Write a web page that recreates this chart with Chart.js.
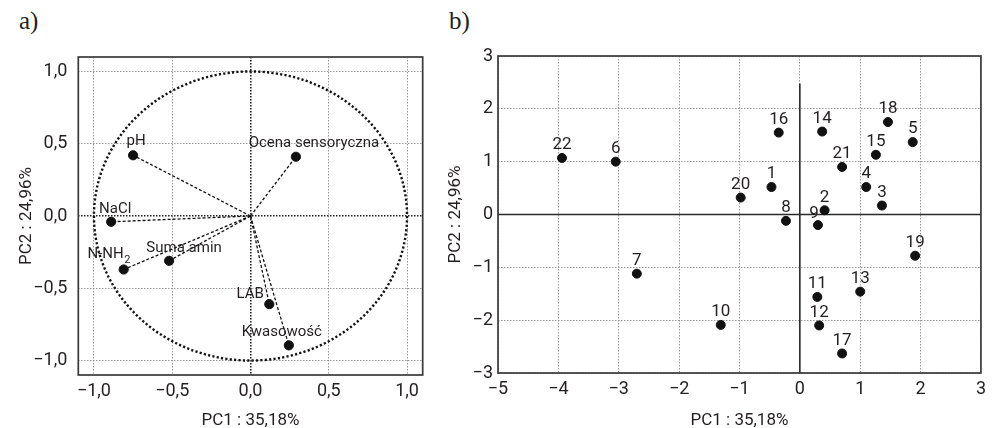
<!DOCTYPE html>
<html><head><meta charset="utf-8">
<script src="https://cdn.jsdelivr.net/npm/chart.js@4"></script>
<style>
html,body{margin:0;padding:0;background:#fff;width:992px;height:428px;overflow:hidden}
#ca{position:absolute;left:0;top:0}
#cb{position:absolute;left:440px;top:0}
.pl{position:absolute;font-family:'Liberation Serif','DejaVu Serif',serif;font-size:25px;line-height:1;color:#231f20}
</style></head><body>
<div class="pl" style="left:19px;top:8px">a)</div>
<div class="pl" style="left:449px;top:8px">b)</div>
<canvas id="ca" width="440" height="428" style="width:440px;height:428px"></canvas>
<canvas id="cb" width="552" height="428" style="width:552px;height:428px"></canvas>
<script>
// ---------- data: panel a (loadings) ----------
const loadingNames = ["pH", "Ocena sensoryczna", "NaCl", "N-NH₂", "Suma amin", "LAB", "Kwasowość"];
const loadingPC1 = [-0.75, 0.29, -0.89, -0.81, -0.52, 0.12, 0.245];
const loadingPC2 = [0.42, 0.41, -0.04, -0.37, -0.31, -0.61, -0.895];
const ticksA = [-1, -0.5, 0, 0.5, 1];
const tickLabelsA = ["−1,0", "−0,5", "0,0", "0,5", "1,0"];

// ---------- data: panel b (scores) ----------
const sampleIds = ["1","2","3","4","5","6","7","8","9","10","11","12","13","14","15","16","17","18","19","20","21","22"];
const scorePC1 = [-0.47, 0.41, 1.36, 1.10, 1.87, -3.05, -2.70, -0.23, 0.30, -1.31, 0.29, 0.32, 1.00, 0.37, 1.26, -0.35, 0.70, 1.46, 1.91, -0.98, 0.70, -3.94];
const scorePC2 = [0.52, 0.08, 0.17, 0.52, 1.37, 1.00, -1.12, -0.12, -0.20, -2.09, -1.56, -2.10, -1.46, 1.57, 1.13, 1.55, -2.63, 1.75, -0.78, 0.32, 0.90, 1.07];
const ticksBX = [-5, -4, -3, -2, -1, 0, 1, 2, 3];
const tickLabelsBX = ["−5", "−4", "−3", "−2", "−1", "0", "1", "2", "3"];
const ticksBY = [-3, -2, -1, 0, 1, 2, 3];
const tickLabelsBY = ["−3", "−2", "−1", "0", "1", "2", "3"];

const titleX = "PC1 : 35,18%";
const titleY = "PC2 : 24,96%";
const verticalAxisStartB = 2.48; // y value where the solid x=0 line begins in panel b

// ---------- styles ----------
const INK = '#231f20';
const FONT = 'Roboto, "Liberation Sans", sans-serif';
const NUMFONT = '"Liberation Sans Narrow", Roboto, sans-serif';
const labelOffsetsA = [[3,-14],[18,-13],[4,-13],[-15,-15],[15,-13],[-19,-10],[-7,-13]];
const labelOffsetsB = sampleIds.map(id => id === "9" ? [-4,-11] : [0,-13]);

Chart.defaults.font.family = FONT;
Chart.defaults.color = INK;

function frameOf(chart){
  const a = chart.chartArea;
  const ctx = chart.ctx;
  ctx.save();
  ctx.strokeStyle = '#3a3a3a';
  ctx.lineWidth = 1.7;
  ctx.strokeRect(a.left, a.top, a.right - a.left, a.bottom - a.top);
  ctx.restore();
}

function drawLabels(chart, names, offsets, font){
  const ds = chart.data.datasets.length - 1;
  const meta = chart.getDatasetMeta(ds);
  const ctx = chart.ctx;
  ctx.save();
  ctx.fillStyle = INK;
  ctx.textBaseline = 'middle';
  const small = font.replace(/\d+px/, m => Math.round(parseInt(m) * 0.7) + 'px');
  meta.data.forEach((pt, i) => {
    const cx = pt.x + offsets[i][0], cy = pt.y + offsets[i][1];
    const name = names[i];
    if (name.includes('₂')) {
      const main = name.replace('₂', '');
      ctx.font = font;
      const w1 = ctx.measureText(main).width;
      ctx.font = small;
      const w2 = ctx.measureText('2').width;
      const x0 = cx - (w1 + w2) / 2;
      ctx.textAlign = 'left';
      ctx.font = font;
      ctx.fillText(main, x0, cy);
      ctx.font = small;
      ctx.fillText('2', x0 + w1 + 0.5, cy + 6);
    } else {
      ctx.font = font;
      ctx.textAlign = 'center';
      ctx.fillText(name, cx, cy);
    }
  });
  ctx.restore();
}

function tickSetter(values){ return scale => { scale.ticks = values.map(v => ({value: v})); }; }
function tickLabel(values, labels){ return (v) => { const i = values.indexOf(v); return i < 0 ? '' : labels[i]; }; }

// ---------- panel a ----------
const vectorSets = loadingPC1.map((x, i) => ({
  type: 'line',
  data: [{x: 0, y: 0}, {x: x, y: loadingPC2[i]}],
  borderColor: '#111',
  borderWidth: 1.3,
  borderDash: [3, 2],
  pointRadius: 0,
  fill: false,
  tension: 0
}));

new Chart(document.getElementById('ca'), {
  type: 'scatter',
  data: {
    datasets: [...vectorSets, {
      type: 'scatter',
      data: loadingPC1.map((x, i) => ({x: x, y: loadingPC2[i]})),
      backgroundColor: '#111',
      borderColor: '#111',
      pointRadius: 4.6,
      pointHoverRadius: 4.6
    }]
  },
  options: {
    responsive: false,
    animation: false,
    events: [],
    layout: {padding: {left: 0, top: 57, right: 17.3, bottom: 0}},
    plugins: {legend: {display: false}, tooltip: {enabled: false}},
    scales: {
      x: {
        type: 'linear', min: -1.1, max: 1.1,
        afterBuildTicks: tickSetter(ticksA),
        afterFit: s => { s.height = 53; },
        ticks: {callback: tickLabel(ticksA, tickLabelsA), font: {size: 18}, padding: 6, color: INK, maxRotation: 0, autoSkip: false},
        grid: {drawTicks: false, color: c => c.tick && c.tick.value === 0 ? '#222' : '#999', lineWidth: c => c.tick && c.tick.value === 0 ? 1.6 : 1},
        border: {display: false, dash: [1.5, 1.5]},
        title: {display: true, text: titleX, font: {size: 17}, color: INK, padding: {top: 0, bottom: -3}}
      },
      y: {
        type: 'linear', min: -1.1, max: 1.1,
        afterBuildTicks: tickSetter(ticksA),
        afterFit: s => { s.width = 78.3; },
        ticks: {callback: tickLabel(ticksA, tickLabelsA), font: {size: 18}, padding: 11, color: INK, autoSkip: false},
        grid: {drawTicks: false, color: c => c.tick && c.tick.value === 0 ? '#222' : '#999', lineWidth: c => c.tick && c.tick.value === 0 ? 1.6 : 1},
        border: {display: false, dash: [1.5, 1.5]},
        title: {display: true, text: titleY, font: {size: 17}, color: INK, padding: {top: 16.8, bottom: 0}}
      }
    }
  },
  plugins: [{
    id: 'circleFrame',
    beforeDatasetsDraw(chart) {
      const {x, y} = chart.scales;
      const ctx = chart.ctx;
      const cx = x.getPixelForValue(0), cy = y.getPixelForValue(0);
      const rx = x.getPixelForValue(1) - cx, ry = cy - y.getPixelForValue(1);
      ctx.save();
      ctx.strokeStyle = '#111';
      ctx.lineWidth = 2.4;
      ctx.setLineDash([2.2, 2.2]);
      ctx.beginPath();
      ctx.ellipse(cx, cy, rx, ry, 0, 0, Math.PI * 2);
      ctx.stroke();
      ctx.restore();
      frameOf(chart);
    },
    afterDatasetsDraw(chart) {
      drawLabels(chart, loadingNames, labelOffsetsA, '15px ' + FONT);
    }
  }]
});

// ---------- panel b ----------
new Chart(document.getElementById('cb'), {
  type: 'scatter',
  data: {
    datasets: [{
      data: scorePC1.map((x, i) => ({x: x, y: scorePC2[i]})),
      backgroundColor: '#111',
      borderColor: '#111',
      pointRadius: 4.5,
      pointHoverRadius: 4.5
    }]
  },
  options: {
    responsive: false,
    animation: false,
    events: [],
    layout: {padding: {left: 0, top: 56, right: 9, bottom: 0}},
    plugins: {legend: {display: false}, tooltip: {enabled: false}},
    scales: {
      x: {
        type: 'linear', min: -5, max: 3,
        afterBuildTicks: tickSetter(ticksBX),
        afterFit: s => { s.height = 55; },
        ticks: {callback: tickLabel(ticksBX, tickLabelsBX), font: {size: 18}, padding: 6, color: INK, maxRotation: 0, autoSkip: false},
        grid: {drawTicks: false, color: '#999', lineWidth: 1},
        border: {display: false, dash: [1.5, 1.5]},
        title: {display: true, text: titleX, font: {size: 17}, color: INK, padding: {top: 0, bottom: -3}}
      },
      y: {
        type: 'linear', min: -3, max: 3,
        afterBuildTicks: tickSetter(ticksBY),
        afterFit: s => { s.width = 58; },
        ticks: {callback: tickLabel(ticksBY, tickLabelsBY), font: {size: 18}, padding: 5, color: INK, autoSkip: false},
        grid: {drawTicks: false, color: '#999', lineWidth: 1},
        border: {display: false, dash: [1.5, 1.5]},
        title: {display: true, text: titleY, font: {size: 17}, color: INK, padding: {top: 5.8, bottom: 0}}
      }
    }
  },
  plugins: [{
    id: 'axesFrame',
    beforeDatasetsDraw(chart) {
      const {x, y} = chart.scales;
      const a = chart.chartArea;
      const ctx = chart.ctx;
      const x0 = x.getPixelForValue(0), y0 = y.getPixelForValue(0);
      ctx.save();
      ctx.strokeStyle = '#2a2a2a';
      ctx.lineWidth = 1.6;
      ctx.beginPath();
      ctx.moveTo(a.left, y0); ctx.lineTo(a.right, y0);
      ctx.moveTo(x0, y.getPixelForValue(verticalAxisStartB)); ctx.lineTo(x0, a.bottom);
      ctx.stroke();
      ctx.restore();
      frameOf(chart);
    },
    afterDatasetsDraw(chart) {
      drawLabels(chart, sampleIds, labelOffsetsB, '17px ' + NUMFONT);
    }
  }]
});
</script>
</body></html>
